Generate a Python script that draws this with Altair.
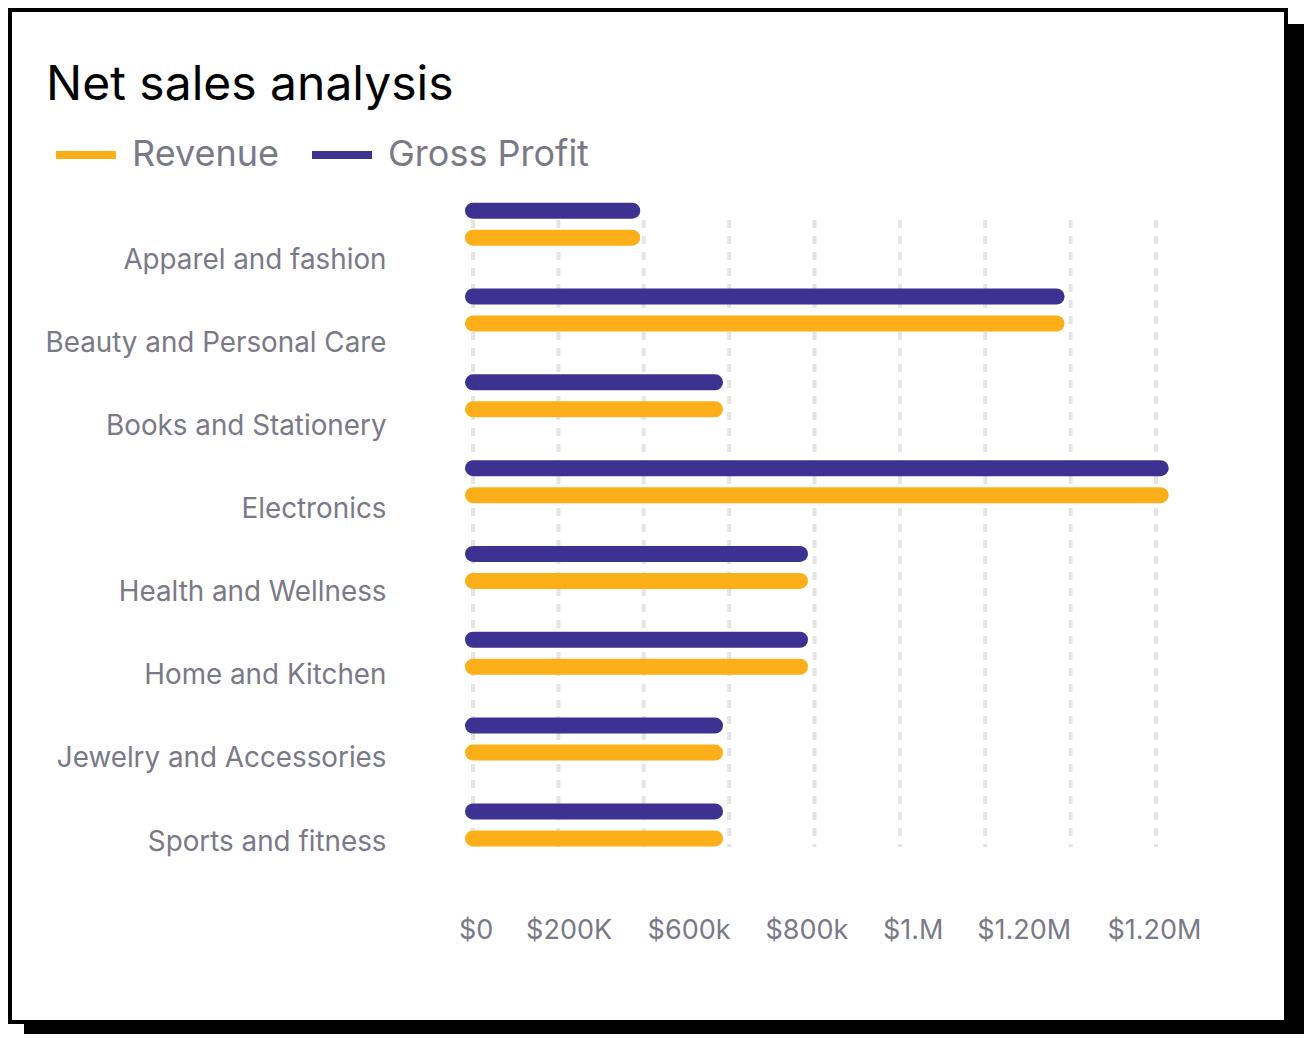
import altair as alt
import pandas as pd

# ---------------- data ----------------
categories = [
    "Apparel and fashion",
    "Beauty and Personal Care",
    "Books and Stationery",
    "Electronics",
    "Health and Wellness",
    "Home and Kitchen",
    "Jewelry and Accessories",
    "Sports and fitness",
]
revenue = [373, 1367, 567, 1611, 766, 766, 567, 567]        # thousands of $
gross_profit = [373, 1367, 567, 1611, 766, 766, 567, 567]   # thousands of $
series_names = ["Revenue", "Gross Profit"]
series_colors = ["#FDAF1A", "#3D3291"]
grid_values = [0, 200, 400, 600, 800, 1000, 1200, 1400, 1600]
tick_positions = [6, 224, 505, 781, 1030, 1290, 1595]
tick_labels = ["$0", "$200K", "$600k", "$800k", "$1.M", "$1.20M", "$1.20M"]

# ---------------- layout ----------------
W, H = 683, 627
PAD = {"left": 465, "top": 212, "right": 148, "bottom": 187}
FONT = "Inter"
GRAY = "#7A7987"

rows = []
for c, r, g in zip(categories, revenue, gross_profit):
    rows.append({"Category": c, "Series": "Revenue", "Value": r})
    rows.append({"Category": c, "Series": "Gross Profit", "Value": g})
df = pd.DataFrame(rows)
df_cat = pd.DataFrame({"Category": categories})
df_grid = pd.DataFrame({"Value": grid_values})
one = pd.DataFrame({"k": [0]})

label_expr = ""
for v, t in zip(tick_positions, tick_labels):
    label_expr += f"datum.value == {v} ? '{t}' : "
label_expr += "''"

xscale = alt.Scale(domain=[0, 1600], nice=False, zero=True)
xaxis = alt.Axis(
    values=tick_positions, labelExpr=label_expr, title=None, grid=False,
    ticks=False, tickSize=0, domain=False, labelFont=FONT, labelFontSize=27,
    labelColor=GRAY, labelBaseline="alphabetic", labelPadding=91,
    labelOverlap=False, labelFlush=False, labelBound=False, zindex=1,
)
color = alt.Color(
    "Series:N",
    scale=alt.Scale(domain=series_names, range=series_colors),
    legend=alt.Legend(
        orient="none", legendX=-421, legendY=-99, direction="horizontal",
        title=None, labelFont=FONT, labelFontSize=36, labelColor=GRAY,
        labelLimit=600, symbolType="stroke", symbolStrokeWidth=8,
        symbolSize=3600, labelOffset=12, columnPadding=17, padding=0,
        zindex=1,
    ),
)
bar_y = alt.Y(
    "Category:N", sort=categories,
    scale=alt.Scale(type="point", range=[4.2, 604.9], padding=0), axis=None,
)

shadow = alt.Chart(one).mark_rect(color="black").encode(
    x=alt.value(-449), x2=alt.value(831), y=alt.value(-196), y2=alt.value(814)
)
card = alt.Chart(one).mark_rect(fill="white", stroke="black", strokeWidth=4).encode(
    x=alt.value(-463), x2=alt.value(813), y=alt.value(-210), y2=alt.value(802)
)
grid = alt.Chart(df_grid).mark_rule(
    color="#E5E5E5", strokeWidth=4, strokeDash=[8, 8]
).encode(
    x=alt.X("Value:Q", scale=xscale, axis=xaxis), y=alt.value(0), y2=alt.value(H)
)
bars_profit = alt.Chart(df).transform_filter(
    alt.datum.Series == "Gross Profit"
).mark_rule(strokeWidth=16, strokeCap="round", yOffset=-13.5).encode(
    x=alt.X("Value:Q", scale=xscale, axis=xaxis), x2=alt.datum(0), y=bar_y, color=color
)
bars_revenue = alt.Chart(df).transform_filter(
    alt.datum.Series == "Revenue"
).mark_rule(strokeWidth=16, strokeCap="round", yOffset=13.5).encode(
    x=alt.X("Value:Q", scale=xscale, axis=xaxis), x2=alt.datum(0), y=bar_y, color=color
)
cat_labels = alt.Chart(df_cat).mark_point(opacity=0, size=1).encode(
    y=alt.Y(
        "Category:N", sort=categories,
        scale=alt.Scale(type="point", range=[48.6, 630], padding=0),
        axis=alt.Axis(
            title=None, grid=False, ticks=False, tickSize=0, domain=False,
            labelFont=FONT, labelFontSize=27.8, labelColor=GRAY, labelAlign="right",
            labelBaseline="alphabetic", labelPadding=87, labelLimit=400, zindex=1,
        ),
    )
)

chart = alt.layer(
    shadow, card, grid, bars_profit, bars_revenue, cat_labels
).resolve_scale(y="independent").properties(
    width=W, height=H,
    autosize=alt.AutoSizeParams(type="none"),
    padding=PAD,
    background="white",
    title=alt.TitleParams(
        "Net sales analysis", anchor="start", frame="group", orient="top",
        font=FONT, fontSize=48, fontWeight="normal", color="black",
        baseline="alphabetic", dx=-427, dy=144, zindex=1,
    ),
).configure_view(stroke=None)

chart.save("out.html", embed_options={"renderer": "svg", "actions": False})
